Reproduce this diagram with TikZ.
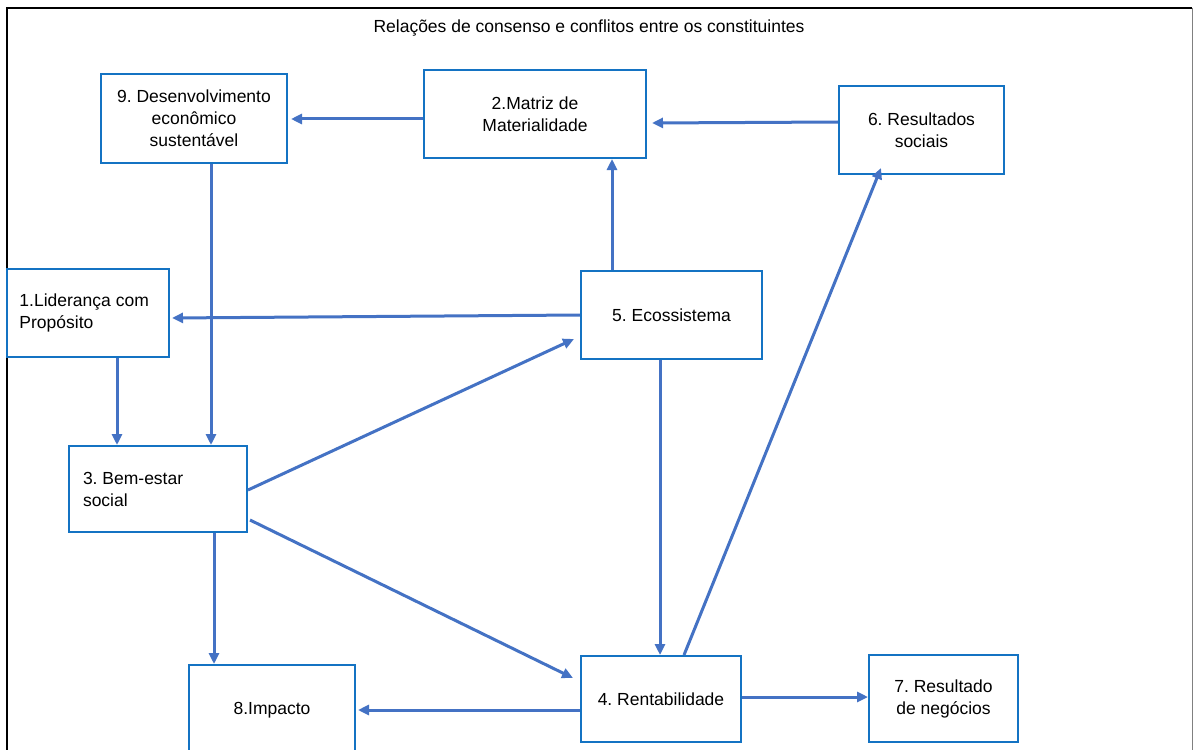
\documentclass[tikz,border=0pt]{standalone}
\usepackage{fontspec}
\setmainfont{Liberation Sans}
\usetikzlibrary{arrows.meta,calc}
\definecolor{boxblue}{RGB}{20,115,195}
\definecolor{arrblue}{RGB}{68,114,196}
\frenchspacing
\begin{document}
\begin{tikzpicture}[x=1pt,y=-1pt,
  box/.style={draw=boxblue,line width=2pt,fill=white,minimum width=#1,inner sep=0pt,font=\fontsize{17.5}{22}\selectfont},
  cbox/.style={box=#1,align=center},
  arr/.style={draw=arrblue,line width=3pt,-{Triangle[length=11pt,width=10pt]}},
  ]
\useasboundingbox (0,0) rectangle (1193,749);
\clip (0,0) rectangle (1193,749);
\fill[white] (0,0) rectangle (1193,749);
% frame
\draw[black,line width=2.2pt] (7,756) -- (7,8) -- (1192,8);
\draw[gray,line width=1pt] (1192,8) -- (1192,756);
\node[font=\fontsize{17.5}{20}\selectfont] (title) at (589,28) {Relações de consenso e conflitos entre os constituintes};
% boxes
\node[cbox=186pt,minimum height=88pt] (n9) at (194,118.5) {9. Desenvolvimento\\econômico\\sustentável};
\node[cbox=222pt,minimum height=88pt] (n2) at (535,114) {2.Matriz de\\Materialidade};
\node[cbox=165pt,minimum height=88pt] (n6) at (921.5,130) {6. Resultados\\sociais};
\node[box=162pt,minimum height=88pt] (n1) at (88,313) {\parbox{137pt}{\raggedright 1.Liderança com\\Propósito}};
\node[cbox=181pt,minimum height=88pt] (n5) at (671.5,315) {5. Ecossistema};
\node[box=178pt,minimum height=86pt] (n3) at (158,489) {\parbox{150pt}{\raggedright 3. Bem-estar\\social}};
\node[cbox=166pt,minimum height=90pt] (n8) at (272,710) {8.Impacto};
\node[cbox=160pt,minimum height=86pt] (n4) at (661,699) {4. Rentabilidade};
\node[cbox=149pt,minimum height=87pt] (n7) at (943.5,698.5) {7. Resultado\\de negócios};
% arrows
\draw[arr] (n2.west |- 0,119) -- ([xshift=3pt]n9.east |- 0,119);
\draw[arr] (n6.west |- 0,122) -- ([xshift=5pt]n2.east |- 0,123);
\draw[arr] (n5.north -| 612,0) -- (n2.south -| 612,0);
\draw[arr] (n5.west |- 0,315) -- ([xshift=2pt]n1.east |- 0,318);
\draw[arr] (n9.south -| 211,0) -- (n3.north -| 211,0);
\draw[arr] (n1.south -| 117,0) -- (n3.north -| 117,0);
\draw[arr] (n3.east |- 0,490) -- ([xshift=-6pt]n5.west |- 0,339);
\draw[arr] ([xshift=2pt]n3.east |- 0,520) -- ([xshift=-7pt]n4.west |- 0,678);
\draw[arr] (n3.south -| 214,0) -- (n8.north -| 214,0);
\draw[arr] (n5.south -| 660,0) -- (n4.north -| 660,0);
\draw[arr] (n4.north -| 684,0) -- ([yshift=7pt]n6.south -| 881,0);
\draw[arr] (n4.west |- 0,710) -- ([xshift=2pt]n8.east |- 0,710);
\draw[arr] (n4.east |- 0,697) -- (n7.west |- 0,697);
\end{tikzpicture}
\end{document}
